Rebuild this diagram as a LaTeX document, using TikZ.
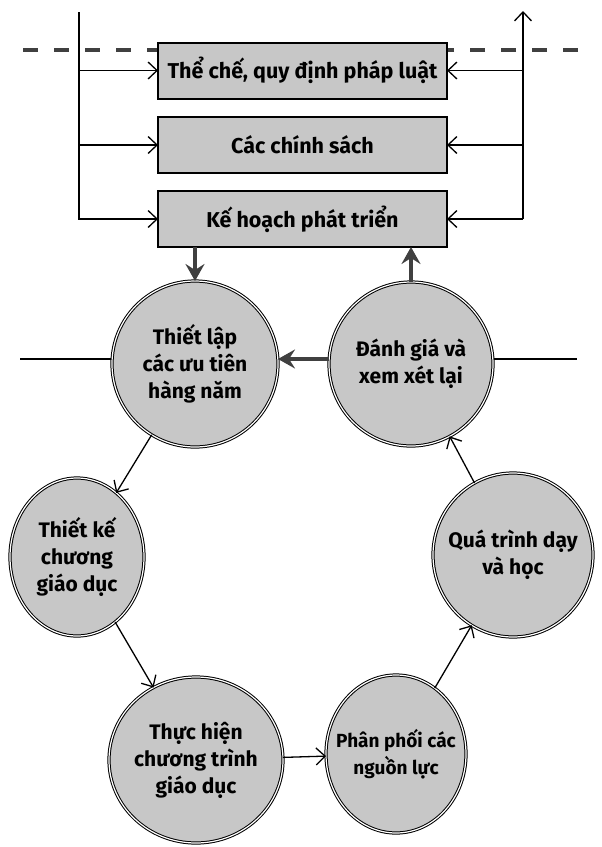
\documentclass[tikz,border=0pt]{standalone}
\usepackage{fontspec}
\setmainfont{Fira Sans}
\usetikzlibrary{arrows.meta,backgrounds,calc,shapes.geometric}
\begin{document}
\begin{tikzpicture}[x=1pt,y=-1pt,
  every node/.style={inner sep=0pt, outer sep=0pt},
  boxnode/.style={draw=black, line width=2pt, fill=black!22, minimum width=289pt, minimum height=56pt,
    font=\fontsize{21.5}{25}\selectfont\bfseries},
  circnode/.style={ellipse, draw=black, line width=1pt, double=white, double distance=1.2pt, fill=black!22},
  ctext/.style={align=center, font=\fontsize{21}{27}\selectfont\bfseries},
  ctextsmall/.style={align=center, font=\fontsize{19}{27}\selectfont\bfseries},
  thinarrow/.style={line width=1.3pt, -{Straight Barb[length=9pt,width=17pt]}},
  thinline/.style={line width=1.3pt},
  thickarrow/.style={line width=4.5pt, draw=black!75, -{Stealth[length=17pt,width=19pt,inset=6pt]}},
  dashline/.style={line width=3.5pt, draw=black!75, dash pattern=on 15pt off 16pt}
]
\useasboundingbox (0,0) rectangle (602,847);

% top boxes
\node[boxnode] (b1) at (302.5,70.5) {Thể chế, quy định pháp luật};
\node[boxnode] (b2) at (302.5,145) {Các chính sách};
\node[boxnode] (b3) at (302.5,219) {Kế hoạch phát triển};

% circles
\node[circnode, minimum width=166pt, minimum height=166pt] (c1) at (195,364) {};
\node[ctext] (c1t) at (c1) {Thiết lập\\các ưu tiên\\hàng năm};
\node[circnode, minimum width=164pt, minimum height=164pt] (dg) at (411,364) {};
\node[ctext] (dgt) at (dg) {Đánh giá và\\xem xét lại};
\node[circnode, minimum width=134pt, minimum height=158pt] (c2) at (77,557) {};
\node[ctext] (c2t) at (c2) {Thiết kế\\chương\\giáo dục};
\node[circnode, minimum width=174pt, minimum height=166pt] (c3) at (196,760) {};
\node[ctext] (c3t) at (c3) {Thực hiện\\chương trình\\giáo dục};
\node[circnode, minimum width=140pt, minimum height=158pt] (pp) at (396,754) {};
\node[ctextsmall] (ppt) at (pp) {Phân phối các\\nguồn lực};
\node[circnode, minimum width=160pt, minimum height=164pt] (qt) at (513,555) {};
\node[ctext] (qtt) at (qt) {Quá trình dạy\\và học};

% helper coordinates
\coordinate (lt) at (79,12);
\coordinate (rt) at (523,11);
\coordinate (hl) at (20,359);
\coordinate (hr) at (577,359);
\coordinate (dl) at (23,50);
\coordinate (dr) at (578,50);

\begin{scope}[on background layer]
  \draw[dashline] (dl) -- (dl -| b1.west);
  \draw[dashline] (dr) -- (dr -| b1.east);
  \draw[thinline] (hl) -- (hr);
\end{scope}

% left feed lines
\draw[thinarrow] (lt) |- (b3.west);
\draw[thinarrow] (lt |- b1.west) -- (b1.west);
\draw[thinarrow] (lt |- b2.west) -- (b2.west);

% right feedback lines
\draw[thinarrow] (rt |- b3.east) -- (rt);
\draw[thinarrow] (rt |- b1.east) -- (b1.east);
\draw[thinarrow] (rt |- b2.east) -- (b2.east);
\draw[thinarrow] (rt |- b3.east) -- (b3.east);

% thick arrows
\draw[thickarrow] (b3.south -| c1) -- (c1);
\draw[thickarrow] (dg) -- (dg |- b3.south);
\draw[thickarrow] (dg.west |- hl) -- (c1.east |- hl);

% cycle
\draw[thinarrow] (c1) -- (c2);
\draw[thinarrow] (c2) -- (c3);
\draw[thinarrow] (c3) -- (pp);
\draw[thinarrow] (pp) -- (qt);
\draw[thinarrow] (qt) -- (dg);
\end{tikzpicture}
\end{document}
